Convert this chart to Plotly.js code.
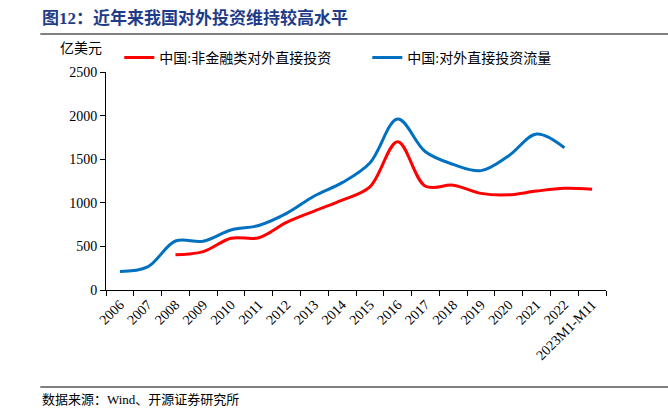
<!DOCTYPE html>
<html>
<head>
<meta charset="utf-8">
<script src="https://cdn.plot.ly/plotly-3.0.1.min.js"></script>
<style>html,body{margin:0;padding:0;background:#fff;}#chart{width:668px;height:411px;}</style>
</head>
<body>
<div id="chart"></div>
<script>
const categories = ['2006','2007','2008','2009','2010','2011','2012','2013','2014','2015','2016','2017','2018','2019','2020','2021','2022','2023M1-M11'];
const nonFinancialODI = [null, null, 405, 440, 593, 600, 775, 905, 1030, 1183, 1701, 1190, 1202, 1108, 1092, 1135, 1166, 1155];
const totalODI = [212, 265, 562, 560, 688, 740, 878, 1078, 1231, 1457, 1961, 1585, 1440, 1369, 1540, 1788, 1631, null];
const seriesNames = ['中国:非金融类对外直接投资', '中国:对外直接投资流量'];

const FONT = 'Liberation Serif, Noto Sans CJK SC, serif';
const L = 105.7, T = 72, W = 500, H = 218;
const px = x => (x - L) / W;
const py = y => (T + H - y) / H;

const traces = [
  {x: categories, y: nonFinancialODI, name: seriesNames[0], type: 'scatter', mode: 'lines',
   line: {color: '#FF0000', width: 3, shape: 'spline'}, connectgaps: false},
  {x: categories, y: totalODI, name: seriesNames[1], type: 'scatter', mode: 'lines',
   line: {color: '#0070C0', width: 3, shape: 'spline'}, connectgaps: false}
];

const layout = {
  width: 668, height: 411,
  margin: {l: L, r: 668 - L - W, t: T, b: 411 - T - H},
  paper_bgcolor: '#fff', plot_bgcolor: '#fff',
  font: {family: FONT, size: 13, color: '#000'},
  showlegend: true,
  legend: {orientation: 'h', x: px(119), xanchor: 'left', y: py(58), yanchor: 'middle',
           entrywidth: 203, entrywidthmode: 'pixels', font: {family: FONT, size: 14, color: '#000'},
           bgcolor: 'rgba(0,0,0,0)'},
  xaxis: {type: 'category', range: [-0.5, categories.length - 0.5], tickson: 'boundaries',
          ticks: 'outside', ticklen: 5, tickcolor: '#000',
          showline: true, linecolor: '#000', linewidth: 1, showgrid: false, zeroline: false,
          tickangle: -45, tickfont: {family: FONT, size: 14, color: '#000'}, fixedrange: true},
  yaxis: {range: [0, 2500], dtick: 500, ticks: 'outside', ticklen: 5, tickcolor: '#000',
          showline: true, linecolor: '#000', linewidth: 1, showgrid: false, zeroline: false,
          tickfont: {family: FONT, size: 14, color: '#000'}, fixedrange: true},
  annotations: [
    {text: '<b>图12：近年来我国对外投资维持较高水平</b>', xref: 'paper', yref: 'paper', x: px(40), y: py(18),
     xanchor: 'left', yanchor: 'middle', showarrow: false, font: {family: FONT, size: 17, color: '#1F3C88'}},
    {text: '亿美元', xref: 'paper', yref: 'paper', x: px(81), y: py(48), xanchor: 'center', yanchor: 'middle',
     showarrow: false, font: {family: FONT, size: 14, color: '#000'}},
    {text: '数据来源：Wind、开源证券研究所', xref: 'paper', yref: 'paper', x: px(40), y: py(400),
     xanchor: 'left', yanchor: 'middle', showarrow: false, font: {family: FONT, size: 13, color: '#000'}}
  ],
  shapes: [
    {type: 'line', xref: 'paper', yref: 'paper', x0: px(40), x1: px(668), y0: py(34), y1: py(34),
     line: {color: '#000', width: 1}},
    {type: 'line', xref: 'paper', yref: 'paper', x0: px(40), x1: px(668), y0: py(387), y1: py(387),
     line: {color: '#000', width: 1}}
  ]
};

Plotly.newPlot('chart', traces, layout, {displayModeBar: false, staticPlot: true});
</script>
</body>
</html>
